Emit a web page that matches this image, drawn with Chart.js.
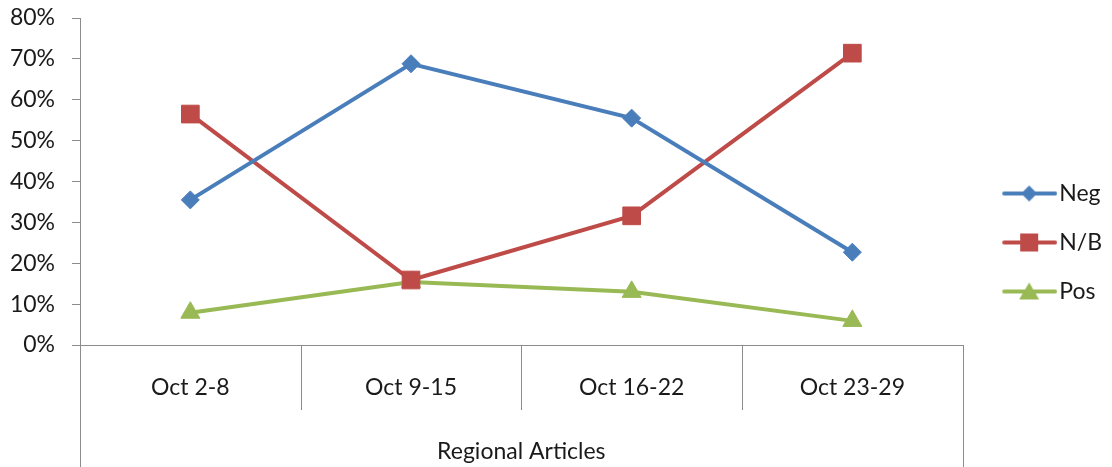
<!DOCTYPE html>
<html>
<head>
<meta charset="utf-8">
<script src="https://cdn.jsdelivr.net/npm/chart.js@4.4.1/dist/chart.umd.min.js"></script>
<style>
  html, body { margin: 0; padding: 0; background: #fff; }
  #wrap { width: 1112px; height: 467px; }
</style>
</head>
<body>
<div id="wrap"><canvas id="chart" width="1112" height="467"></canvas></div>
<script>
// data
var categories = ['Oct 2-8', 'Oct 9-15', 'Oct 16-22', 'Oct 23-29'];
var negValues  = [35.5, 68.8, 55.5, 22.7];
var nbValues   = [56.5, 15.9, 31.6, 71.4];
var posValues  = [7.9, 15.4, 13.0, 5.9];
var seriesNames = ['Neg', 'N/B', 'Pos'];
var axisTitle = 'Regional Articles';

var COLORS = { neg: '#4a7ebb', nb: '#be4b48', pos: '#98b954', axis: '#8c8c8c', text: '#1a1a1a' };
var FONT = { family: 'Lato, "Open Sans", sans-serif', size: 23 };

// small canvas icons for the legend: line + marker (left part transparent)
function makeIcon(color, shape) {
  var c = document.createElement('canvas');
  c.width = 78; c.height = 22;
  var g = c.getContext('2d');
  var cx = 50;
  g.strokeStyle = color; g.fillStyle = color;
  g.lineWidth = 4; g.lineCap = 'round';
  g.beginPath(); g.moveTo(25, 11); g.lineTo(76, 11); g.stroke();
  g.beginPath();
  if (shape === 'diamond') {
    g.moveTo(cx, 3); g.lineTo(cx + 8, 11); g.lineTo(cx, 19); g.lineTo(cx - 8, 11);
  } else if (shape === 'square') {
    g.rect(cx - 9, 2, 18, 18);
  } else {
    g.moveTo(cx, 2); g.lineTo(cx + 10, 19); g.lineTo(cx - 10, 19);
  }
  g.closePath(); g.fill();
  return c;
}
var legendIcons = [
  makeIcon(COLORS.neg, 'diamond'),
  makeIcon(COLORS.nb, 'square'),
  makeIcon(COLORS.pos, 'triangle')
];

// category separators below the axis + outer frame lines
var separators = {
  id: 'separators',
  afterDraw: function(chart) {
    var x = chart.scales.x, area = chart.chartArea, ctx = chart.ctx;
    ctx.save();
    ctx.strokeStyle = COLORS.axis;
    ctx.lineWidth = 1;
    ctx.beginPath();
    for (var i = 1; i < categories.length; i++) {
      var px = Math.round((x.getPixelForTick(i - 1) + x.getPixelForTick(i)) / 2) + 0.5;
      ctx.moveTo(px, area.bottom); ctx.lineTo(px, area.bottom + 65);
    }
    ctx.moveTo(Math.round(area.left) + 0.5, area.bottom); ctx.lineTo(Math.round(area.left) + 0.5, chart.height);
    ctx.moveTo(Math.round(area.right) + 0.5, area.bottom); ctx.lineTo(Math.round(area.right) + 0.5, chart.height);
    ctx.stroke();
    ctx.restore();
  }
};

function lineSet(label, data, color, style, radius) {
  return {
    label: label,
    data: data,
    borderColor: color,
    backgroundColor: color,
    borderWidth: 4,
    pointStyle: style,
    pointRadius: radius,
    pointHoverRadius: radius,
    pointBackgroundColor: color,
    pointBorderColor: color,
    pointBorderWidth: 1,
    tension: 0,
    fill: false
  };
}

new Chart(document.getElementById('chart'), {
  type: 'line',
  data: {
    labels: categories,
    datasets: [
      lineSet(seriesNames[0], negValues, COLORS.neg, 'rectRot', 9),
      lineSet(seriesNames[1], nbValues, COLORS.nb, 'rect', 12.5),
      lineSet(seriesNames[2], posValues, COLORS.pos, 'triangle', 11)
    ]
  },
  options: {
    responsive: false,
    animation: false,
    layout: { padding: { top: 18, right: 0, left: 0, bottom: 0 } },
    plugins: {
      tooltip: { enabled: false },
      legend: {
        position: 'right',
        labels: {
          usePointStyle: true,
          pointStyleWidth: 59,
          padding: 26,
          color: COLORS.text,
          font: FONT,
          generateLabels: function(chart) {
            var items = Chart.defaults.plugins.legend.labels.generateLabels(chart);
            items.forEach(function(it, i) { it.pointStyle = legendIcons[i]; });
            return items;
          }
        }
      }
    },
    scales: {
      x: {
        offset: true,
        grid: { display: false, drawTicks: false },
        border: { display: true, color: COLORS.axis, width: 1 },
        ticks: { color: COLORS.text, font: FONT, padding: 29, maxRotation: 0 },
        title: { display: true, text: axisTitle, color: COLORS.text, font: FONT, padding: { top: 0, bottom: 2 } },
        afterFit: function(s) { s.height = 122; }
      },
      y: {
        min: 0,
        max: 80,
        grid: { drawOnChartArea: false, tickLength: 8, color: COLORS.axis },
        border: { display: true, color: COLORS.axis, width: 1 },
        ticks: {
          stepSize: 10,
          padding: 17,
          color: COLORS.text,
          font: FONT,
          callback: function(v) { return v + '%'; }
        },
        afterFit: function(s) {
          s.width = 80;
          s.paddingTop = 0;
          s.paddingBottom = 0;
        }
      }
    }
  },
  plugins: [separators]
});
</script>
</body>
</html>
